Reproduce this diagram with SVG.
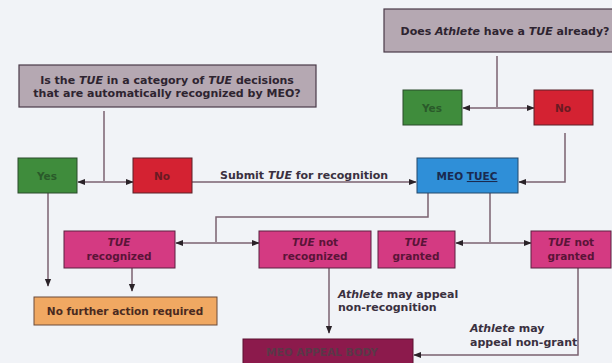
<svg xmlns="http://www.w3.org/2000/svg" width="612" height="363" viewBox="0 0 612 363">
<defs>
<marker id="ah" viewBox="0 0 10 10" refX="9" refY="5" markerWidth="8" markerHeight="8" markerUnits="userSpaceOnUse" orient="auto-start-reverse">
<path d="M0,1 L10,5 L0,9 Z" fill="#2a2228"/>
</marker>
<style>
.q{fill:#b5a8b2;stroke:#4a3a48;stroke-width:1.2}
.g{fill:#3f8c3c;stroke:#2a4a2a;stroke-width:1}
.r{fill:#d42232;stroke:#5a2028;stroke-width:1}
.p{fill:#d43a82;stroke:#5a2040;stroke-width:1}
.b{fill:#2f8fd8;stroke:#24486a;stroke-width:1}
.o{fill:#f0a862;stroke:#6a4a3a;stroke-width:1}
.m{fill:#8c1a4c;stroke:#5a1030;stroke-width:1}
text{font-family:"DejaVu Sans","Liberation Sans",Arial,sans-serif;font-weight:bold;font-size:10.5px;text-anchor:middle}
.qt{fill:#2e2430;font-size:11px}
.pt{fill:#5a1438;font-size:10.5px}
.lt{fill:#3a3040;font-size:11px;text-anchor:start}
.c{fill:none;stroke:#7a6270;stroke-width:1.5}
.ca{fill:none;stroke:#7a6270;stroke-width:1.5;marker-end:url(#ah)}
.cb{fill:none;stroke:#7a6270;stroke-width:1.5;marker-end:url(#ah);marker-start:url(#ah)}
</style>
</defs>
<rect width="612" height="363" fill="#f1f3f7"/>
<g id="connectors">
<path class="c" d="M104,111 V181"/>
<path class="cb" d="M78,182 H133"/>
<path class="ca" d="M192,182 H416"/>
<path class="c" d="M497,56 V107"/>
<path class="cb" d="M463,108 H534"/>
<path class="ca" d="M565,133 V182 H519"/>
<path class="c" d="M428,193 V217 H216 V242"/>
<path class="cb" d="M176,243 H259"/>
<path class="c" d="M490,193 V242"/>
<path class="cb" d="M456,243 H531"/>
<path class="ca" d="M48,193 V286"/>
<path class="ca" d="M132,268 V291"/>
<path class="ca" d="M329,268 V333"/>
<path class="ca" d="M578,268 V355 H414"/>
</g>
<g id="q1"><rect class="q" x="19" y="65" width="297" height="42"/>
<text class="qt" x="167" y="84">Is the <tspan font-style="italic">TUE</tspan> in a category of <tspan font-style="italic">TUE</tspan> decisions</text>
<text class="qt" x="167" y="97">that are automatically recognized by MEO?</text></g>
<g id="q2"><rect class="q" x="384" y="9" width="240" height="43"/>
<text class="qt" x="505" y="35">Does <tspan font-style="italic">Athlete</tspan> have a <tspan font-style="italic">TUE</tspan> already?</text></g>
<g id="yes1"><rect class="g" x="18" y="158" width="59" height="35"/><text x="47" y="180" fill="#2a5a2a" font-size="12">Yes</text></g>
<g id="no1"><rect class="r" x="133" y="158" width="59" height="35"/><text x="162" y="180" fill="#6a1a22" font-size="12">No</text></g>
<g id="yes2"><rect class="g" x="403" y="90" width="59" height="35"/><text x="432" y="112" fill="#2a5a2a" font-size="12">Yes</text></g>
<g id="no2"><rect class="r" x="534" y="90" width="59" height="35"/><text x="563" y="112" fill="#6a1a22" font-size="12">No</text></g>
<g id="tuec"><rect class="b" x="417" y="158" width="101" height="35"/><text x="467" y="180" fill="#1a2a50" font-size="12.5">MEO <tspan text-decoration="underline">TUEC</tspan></text></g>
<g id="rec"><rect class="p" x="64" y="231" width="111" height="37"/>
<text class="pt" x="119" y="246" font-style="italic">TUE</text><text class="pt" x="119" y="260">recognized</text></g>
<g id="notrec"><rect class="p" x="259" y="231" width="112" height="37"/>
<text class="pt" x="315" y="246"><tspan font-style="italic">TUE</tspan> not</text><text class="pt" x="315" y="260">recognized</text></g>
<g id="granted"><rect class="p" x="378" y="231" width="77" height="37"/>
<text class="pt" x="416" y="246" font-style="italic">TUE</text><text class="pt" x="416" y="260">granted</text></g>
<g id="notgranted"><rect class="p" x="531" y="231" width="80" height="37"/>
<text class="pt" x="571" y="246"><tspan font-style="italic">TUE</tspan> not</text><text class="pt" x="571" y="260">granted</text></g>
<g id="nofurther"><rect class="o" x="34" y="297" width="183" height="28"/><text x="125" y="315" fill="#4a2a20">No further action required</text></g>
<g id="appeal"><rect class="m" x="243" y="339" width="170" height="30"/><text x="322" y="356" fill="#5a3848" font-size="12">MEO APPEAL BODY</text></g>
<g id="labels">
<text class="lt" x="220" y="179">Submit <tspan font-style="italic">TUE</tspan> for recognition</text>
<text class="lt" x="338" y="298"><tspan font-style="italic">Athlete</tspan> may appeal</text>
<text class="lt" x="338" y="311">non-recognition</text>
<text class="lt" x="470" y="332"><tspan font-style="italic">Athlete</tspan> may</text>
<text class="lt" x="470" y="346">appeal non-grant</text>
</g>
</svg>
